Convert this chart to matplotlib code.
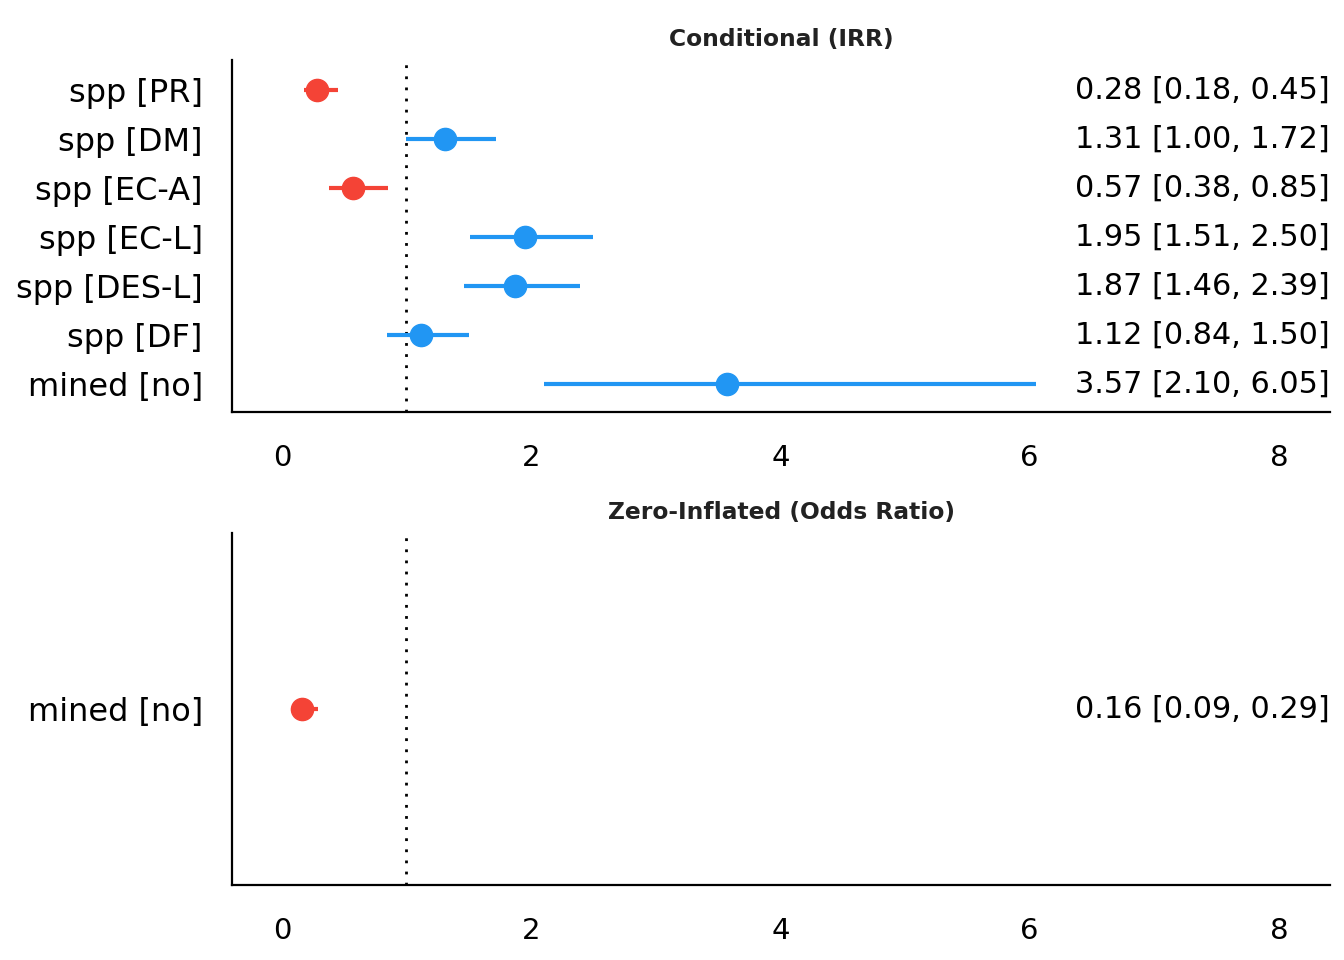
import matplotlib
matplotlib.use("Agg")
import matplotlib.pyplot as plt

# conditional model (IRR)
cond_terms = ["spp [PR]", "spp [DM]", "spp [EC-A]", "spp [EC-L]", "spp [DES-L]", "spp [DF]", "mined [no]"]
cond_est = [0.28, 1.31, 0.57, 1.95, 1.87, 1.12, 3.57]
cond_lo = [0.18, 1.00, 0.38, 1.51, 1.46, 0.84, 2.10]
cond_hi = [0.45, 1.72, 0.85, 2.50, 2.39, 1.50, 6.05]

# zero-inflated model (odds ratio)
zi_terms = ["mined [no]"]
zi_est = [0.16]
zi_lo = [0.09]
zi_hi = [0.29]

xticks = [0, 2, 4, 6, 8]
red = "#F44336"
blue = "#2196F3"

fig = plt.figure(figsize=(13.44, 9.6), dpi=100)
W, H = 1344, 960
ax1 = fig.add_axes([232 / W, 1 - 412 / H, (1330 - 232) / W, 352 / H])
ax2 = fig.add_axes([232 / W, 1 - 885 / H, (1330 - 232) / W, 352 / H])


def panel(ax, terms, est, lo, hi, title):
    n = len(terms)
    ys = list(range(n))
    for y, e, l, h in zip(ys, est, lo, hi):
        c = blue if e > 1 else red
        ax.plot([l, h], [y, y], color=c, lw=3, solid_capstyle="butt", zorder=2)
        ax.plot(e, y, "o", color=c, ms=16, zorder=3)
        ax.text(1.0, y, f"{e:.2f} [{l:.2f}, {h:.2f}]", transform=ax.get_yaxis_transform(),
                ha="right", va="center", fontsize=21.8)
    ax.axvline(1, color="black", ls=(0, (1, 3)), lw=2, zorder=1)
    ax.set_yticks(ys)
    ax.set_yticklabels(terms, fontsize=23)
    if n > 1:
        ax.set_ylim(n - 1 + 0.57, -0.61)
    else:
        ax.set_ylim(0.6, -0.6)
    ax.set_xlim(-0.4, 8.41)
    ax.set_xticks(xticks)
    ax.set_xticklabels([str(t) for t in xticks], fontsize=21)
    ax.tick_params(length=0, axis="x", pad=23)
    ax.tick_params(length=0, axis="y", pad=21)
    for s in ["top", "right"]:
        ax.spines[s].set_visible(False)
    for s in ["left", "bottom"]:
        ax.spines[s].set_linewidth(1.6)
    ax.set_title(title, fontsize=16.8, fontweight="bold", color="#222222", pad=10)


panel(ax1, cond_terms, cond_est, cond_lo, cond_hi, "Conditional (IRR)")
panel(ax2, zi_terms, zi_est, zi_lo, zi_hi, "Zero-Inflated (Odds Ratio)")

fig.savefig("out.png", dpi=100)
